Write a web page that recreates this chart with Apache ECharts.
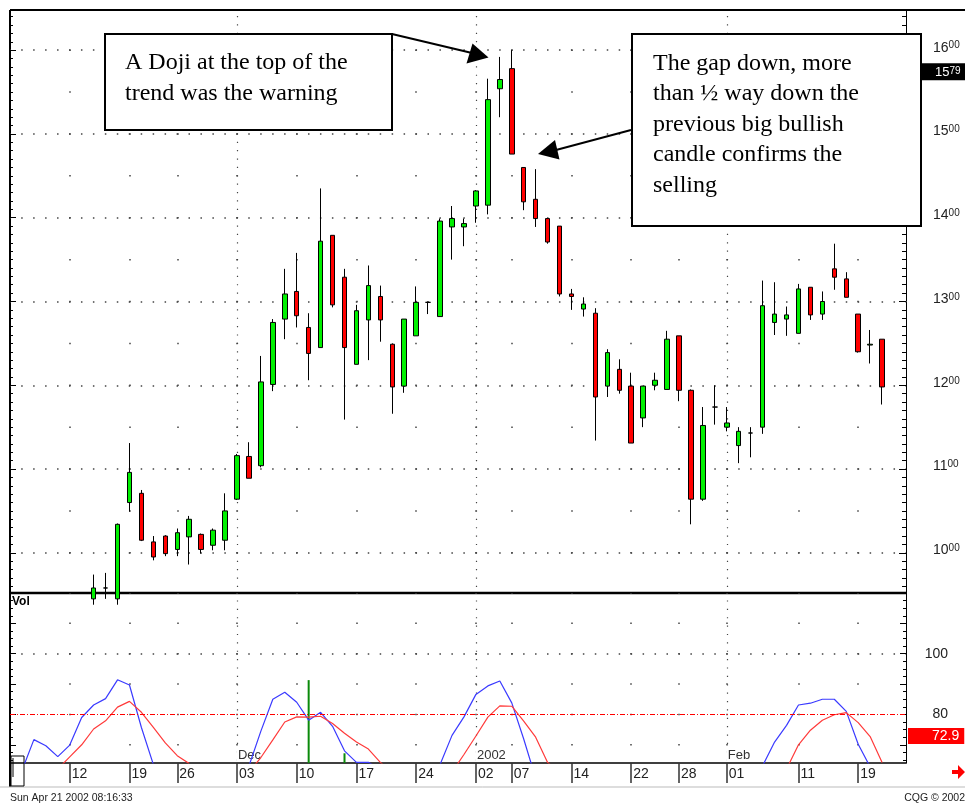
<!DOCTYPE html>
<html>
<head>
<meta charset="utf-8">
<title>Doji at the top</title>
<script src="https://cdn.jsdelivr.net/npm/echarts@6/dist/echarts.min.js"></script>
<style>
html, body { margin: 0; padding: 0; background: #fff; }
#chart { width: 965px; height: 804px; }
</style>
</head>
<body>
<div id="chart"></div>
<script>
var dates = [
    '2001-11-05', '2001-11-06', '2001-11-07', '2001-11-08', '2001-11-09',
    '2001-11-12', '2001-11-13', '2001-11-14', '2001-11-15', '2001-11-16',
    '2001-11-19', '2001-11-20', '2001-11-21', '2001-11-23',
    '2001-11-26', '2001-11-27', '2001-11-28', '2001-11-29', '2001-11-30',
    '2001-12-03', '2001-12-04', '2001-12-05', '2001-12-06', '2001-12-07',
    '2001-12-10', '2001-12-11', '2001-12-12', '2001-12-13', '2001-12-14',
    '2001-12-17', '2001-12-18', '2001-12-19', '2001-12-20', '2001-12-21',
    '2001-12-24', '2001-12-26', '2001-12-27', '2001-12-28', '2001-12-31',
    '2002-01-02', '2002-01-03', '2002-01-04',
    '2002-01-07', '2002-01-08', '2002-01-09', '2002-01-10', '2002-01-11',
    '2002-01-14', '2002-01-15', '2002-01-16', '2002-01-17', '2002-01-18',
    '2002-01-22', '2002-01-23', '2002-01-24', '2002-01-25',
    '2002-01-28', '2002-01-29', '2002-01-30', '2002-01-31', '2002-02-01',
    '2002-02-04', '2002-02-05', '2002-02-06', '2002-02-07', '2002-02-08',
    '2002-02-11', '2002-02-12', '2002-02-13', '2002-02-14', '2002-02-15',
    '2002-02-19', '2002-02-20', '2002-02-21', '2002-02-22', '2002-02-25'
];

var opens = [
    null, null, null, null, null, null, null, 945, 958, 945,
    1060, 1071, 1013, 1020, 1004, 1019, 1022, 1009, 1015, 1064,
    1115, 1104, 1201, 1279, 1312, 1269, 1245, 1379, 1329, 1225,
    1278, 1306, 1249, 1199, 1259, 1299, 1282, 1389, 1389, 1414,
    1415, 1554, 1578, 1460, 1422, 1399, 1390, 1309, 1291, 1286,
    1199, 1219, 1199, 1161, 1200, 1195, 1259, 1194, 1064, 1174,
    1150, 1128, 1143, 1150, 1275, 1279, 1262, 1317, 1285, 1339,
    1327, 1285, 1248, 1255, null, null
];
var closes = [
    null, null, null, null, null, null, null, 958, 958, 1034,
    1096, 1015, 995, 999, 1024, 1040, 1004, 1027, 1050, 1116,
    1089, 1204, 1275, 1309, 1283, 1238, 1372, 1296, 1245, 1289,
    1319, 1278, 1198, 1279, 1299, 1299, 1396, 1399, 1393, 1432,
    1541, 1565, 1476, 1419, 1399, 1371, 1309, 1306, 1297, 1186,
    1239, 1194, 1131, 1199, 1206, 1255, 1194, 1064, 1152, 1174,
    1155, 1145, 1143, 1295, 1285, 1284, 1315, 1284, 1300, 1329,
    1305, 1240, 1249, 1198, null, null
];
var lows = [
    null, null, null, null, null, null, null, 938, 945, 938,
    1049, 1014, 991, 996, 996, 986, 999, 1003, 1003, 1063,
    1089, 1102, 1193, 1255, 1269, 1206, 1245, 1293, 1159, 1225,
    1230, 1252, 1166, 1191, 1259, 1285, 1282, 1350, 1366, 1394,
    1404, 1520, 1476, 1409, 1389, 1369, 1306, 1290, 1282, 1134,
    1186, 1190, 1131, 1150, 1194, 1195, 1181, 1034, 1062, 1153,
    1145, 1107, 1114, 1142, 1260, 1259, 1262, 1278, 1278, 1314,
    1305, 1239, 1226, 1177, null, null
];
var highs = [
    null, null, null, null, null, null, null, 974, 976, 1035,
    1131, 1075, 1020, 1021, 1029, 1044, 1023, 1029, 1071, 1118,
    1132, 1235, 1279, 1339, 1358, 1286, 1435, 1379, 1339, 1296,
    1343, 1319, 1250, 1279, 1318, 1300, 1399, 1414, 1399, 1433,
    1566, 1592, 1600, 1460, 1458, 1399, 1390, 1315, 1305, 1292,
    1243, 1231, 1215, 1199, 1215, 1265, 1259, 1195, 1174, 1200,
    1174, 1150, 1150, 1325, 1323, 1294, 1321, 1317, 1312, 1369,
    1335, 1285, 1266, 1255, null, null
];

// stochastic %K (blue) and %D (red); only the parts above 64 show
var stochK = [
    null, 61.5, 71.7, 69.7, 66.1, 69.9, 79, 83.1, 85.2, 91.4,
    89.7, 75.7, 63.5, null, null, null, null, null, null, null,
    63, 74.5, 85, 87.3, 84, 78.1, 80.7, 76.1, 68, 64.2,
    64.2, 62, null, null, null, null, 63.5, 73.1, 79.2, 86.6,
    89.4, 91, 83.8, 71.9, 59, null, null, null, null, null,
    null, null, null, null, null, null, null, null, null, null,
    null, null, null, 63.1, 70.9, 76.4, 83.1, 83.7, 85, 85,
    81, 70.2, 62.7, null, null, null
];
var stochD = [
    null, null, null, null, 62, 66, 70, 75.2, 77.9, 82.4,
    84.3, 80.7, 75.7, 70.6, 66.4, 63.8, null, null, null, null,
    61, 65.8, 71.6, 77.5, 79.2, 79.1, 79.4, 77, 73.8, 70.9,
    68.6, 64.2, 61, null, null, null, null, 61, 66.8, 72.9,
    79.1, 82.8, 82.7, 77.8, 72.5, 64.2, 61, null, null, null,
    null, null, null, null, null, null, null, null, null, null,
    null, null, null, null, null, 62, 70, 74.8, 78.1, 79.9,
    80.6, 77.3, 72.7, 64.2, null, null
];
var vol = [];
dates.forEach(function () { vol.push(null); });
vol[25] = 91.3;
vol[28] = 67.2;

var tickDates = [
    '2001-11-12', '2001-11-19', '2001-11-26', '2001-12-03', '2001-12-10',
    '2001-12-17', '2001-12-24', '2002-01-02', '2002-01-07', '2002-01-14',
    '2002-01-22', '2002-01-28', '2002-02-01', '2002-02-11', '2002-02-19'
];
var monthDates = ['2001-12-03', '2002-01-02', '2002-02-01'];
var monthNames = ['Dec', '2002', 'Feb'];
var priceTicks = [1000, 1100, 1200, 1300, 1400, 1500, 1600];
var stochTicks = [70, 80, 90, 100, 110];
var stochLabels = [80, 100];
var lastPrice = 1579;
var lastStoch = 72.9;
var overbought = 80;

var priceMin = 952, priceMax = 1648;
var stochMin = 64, stochMax = 120;

function steps(a, b, s) {
    var out = [];
    for (var v = a; v <= b + 1e-9; v += s) out.push(Math.round(v * 100) / 100);
    return out;
}

var candles = [];
dates.forEach(function (d, i) {
    if (opens[i] != null) candles.push([i, opens[i], closes[i], lows[i], highs[i]]);
});

var SANS = '"Liberation Sans", Arial, sans-serif';
var SERIF = '"Liberation Serif", "Times New Roman", serif';
var DOT = '#444';
var HIDDEN = 'rgba(0,0,0,0)';

function isTick(i, v) { return tickDates.indexOf(v) >= 0; }
function isMonth(i, v) { return monthDates.indexOf(v) >= 0; }

function catAxis(grid, extra) {
    var a = {
        type: 'category', gridIndex: grid, position: 'bottom', data: dates, boundaryGap: false,
        axisLine: {show: false}, axisTick: {show: false}, axisLabel: {show: false},
        splitLine: {show: false}
    };
    for (var k in extra) a[k] = extra[k];
    return a;
}

function valAxis(grid, pos, min, max, extra) {
    var a = {
        type: 'value', gridIndex: grid, position: pos, min: min, max: max,
        axisLine: {show: false}, axisTick: {show: false}, axisLabel: {show: false},
        splitLine: {show: false}
    };
    for (var k in extra) a[k] = extra[k];
    return a;
}

function ticks(values, len) {
    return {show: true, inside: true, length: len, customValues: values,
            lineStyle: {color: '#000', width: 1}};
}

function priceLabel(v) {
    var s = String(v);
    return '{a|' + s.slice(0, 2) + '}{b|' + s.slice(2) + '}';
}

var chart = echarts.init(document.getElementById('chart'));

chart.setOption({
    animation: false,
    backgroundColor: '#fff',
    grid: [
        {left: 10, top: 10, width: 896, height: 583},
        {left: 10, top: 593, width: 896, height: 170}
    ],
    xAxis: [
        catAxis(0, {splitLine: {show: true, interval: isTick,
            lineStyle: {color: DOT, width: 1.5, type: [1.5, 40.38], dashOffset: 2.4}}}),
        catAxis(0, {splitLine: {show: true, interval: isMonth,
            lineStyle: {color: DOT, width: 1.2, type: [1.2, 7.18], dashOffset: 2.4}}}),
        catAxis(1, {
            axisLine: {show: true, onZero: false, lineStyle: {color: '#000', width: 1.5}},
            axisTick: {show: true, interval: isTick, length: 20, lineStyle: {color: '#333', width: 1.5}},
            axisLabel: {show: true, interval: isTick, align: 'left', margin: 4, padding: [0, 0, 0, 2],
                color: '#222', fontSize: 14, fontFamily: SANS,
                formatter: function (v) { return v.slice(8); }},
            splitLine: {show: true, interval: isTick,
                lineStyle: {color: DOT, width: 1.5, type: [1.5, 28.86], dashOffset: 0.75}}
        }),
        catAxis(1, {
            axisLabel: {show: true, inside: true, interval: isMonth, align: 'left', verticalAlign: 'bottom',
                margin: 1, padding: [0, 1, 0, 1], backgroundColor: '#fff',
                color: '#333', fontSize: 13, fontFamily: SANS,
                formatter: function (v) { return monthNames[monthDates.indexOf(v)]; }},
            splitLine: {show: true, interval: isMonth,
                lineStyle: {color: DOT, width: 1.2, type: [1.2, 7.18], dashOffset: 1}}
        })
    ],
    yAxis: [
        valAxis(0, 'right', priceMin, priceMax, {
            axisLine: {show: true, lineStyle: {color: '#000', width: 1}},
            axisTick: ticks(priceTicks, 7),
            axisLabel: {show: true, customValues: priceTicks, margin: 27, padding: [0, 0, 5, 0],
                formatter: priceLabel,
                rich: {
                    a: {fontSize: 14, lineHeight: 14, color: '#222', fontFamily: SANS},
                    b: {fontSize: 10, lineHeight: 10, verticalAlign: 'top', color: '#222', fontFamily: SANS}
                }},
            splitLine: {show: true, lineStyle: {color: DOT, width: 1.5, type: [1.5, 10.45], dashOffset: 0.75}}
        }),
        valAxis(0, 'right', priceMin, priceMax, {axisTick: ticks(steps(960, 1640, 10), 4)}),
        valAxis(0, 'left', priceMin, priceMax, {axisTick: ticks(steps(960, 1640, 10), 3)}),
        valAxis(0, 'left', priceMin, priceMax, {axisTick: ticks(priceTicks, 6)}),
        valAxis(1, 'right', stochMin, stochMax, {
            axisLine: {show: true, lineStyle: {color: '#000', width: 1}},
            axisTick: ticks(stochTicks, 6),
            axisLabel: {show: true, customValues: stochLabels, align: 'right', margin: 42,
                padding: [0, 0, 3, 0], color: '#222', fontSize: 14, fontFamily: SANS}
        }),
        valAxis(1, 'right', stochMin, stochMax, {axisTick: ticks(steps(65, 117.5, 2.5), 3)}),
        valAxis(1, 'left', stochMin, stochMax, {axisTick: ticks(steps(65, 117.5, 2.5), 3)}),
        valAxis(1, 'left', stochMin, stochMax, {axisTick: ticks(stochTicks, 6)}),
        valAxis(1, 'right', stochMin, stochMax, {
            axisTick: {show: false, customValues: [100]},
            splitLine: {show: true, lineStyle: {color: DOT, width: 1.5, type: [1.5, 10.45], dashOffset: 0.75}}
        })
    ],
    series: [
        {
            type: 'candlestick',
            xAxisIndex: 0, yAxisIndex: 0,
            data: candles,
            encode: {x: 0, y: [1, 2, 3, 4]},
            barWidth: 5,
            clip: true,
            itemStyle: {color: '#00f000', color0: '#ff0000', borderColor: '#000', borderColor0: '#000', borderWidth: 1},
            markLine: {
                silent: true, symbol: 'none',
                lineStyle: {color: HIDDEN, width: 1, type: 'solid'},
                label: {show: true, position: 'end', distance: 2,
                    formatter: function (p) { return priceLabel(p.value); },
                    backgroundColor: '#000', padding: [3, 8, 1, 27], offset: [0, 4],
                    rich: {
                        a: {fontSize: 13, lineHeight: 13, color: '#fff', fontFamily: SANS},
                        b: {fontSize: 10, lineHeight: 10, verticalAlign: 'top', color: '#fff', fontFamily: SANS}
                    }},
                data: [{yAxis: lastPrice}]
            }
        },
        {
            name: 'Vol', type: 'bar',
            xAxisIndex: 2, yAxisIndex: 4,
            data: vol, barWidth: 2,
            itemStyle: {color: '#0a8a0a'}
        },
        {
            name: '%K', type: 'line',
            xAxisIndex: 2, yAxisIndex: 4,
            data: stochK, symbol: 'none', clip: true,
            lineStyle: {color: '#3a3aff', width: 1.2},
            markLine: {
                silent: true, symbol: 'none',
                lineStyle: {color: HIDDEN, width: 1, type: 'solid'},
                label: {show: true, position: 'end', distance: 2,
                    formatter: function (p) { return String(p.value); },
                    backgroundColor: '#ff0000', color: '#fff', fontSize: 14, fontFamily: SANS,
                    padding: [1, 5, 1, 24]},
                data: [{yAxis: lastStoch}]
            }
        },
        {
            name: '%D', type: 'line',
            xAxisIndex: 2, yAxisIndex: 4,
            data: stochD, symbol: 'none', clip: true,
            lineStyle: {color: '#ff3a3a', width: 1.2},
            markLine: {
                silent: true, symbol: 'none',
                lineStyle: {color: '#ff0000', width: 1, type: [5, 2, 1, 2]},
                label: {show: false},
                data: [{yAxis: overbought}]
            }
        }
    ],
    graphic: [
        {type: 'line', shape: {x1: 10, y1: 10, x2: 965, y2: 10}, style: {stroke: '#000', lineWidth: 2}},
        {type: 'line', shape: {x1: 10, y1: 10, x2: 10, y2: 787}, style: {stroke: '#000', lineWidth: 2}},
        {type: 'line', shape: {x1: 10, y1: 593, x2: 906, y2: 593}, style: {stroke: '#000', lineWidth: 2.5}},
        {type: 'line', shape: {x1: 0, y1: 787, x2: 965, y2: 787}, style: {stroke: '#bbb', lineWidth: 1}},
        {type: 'rect', shape: {x: 11, y: 756, width: 13, height: 30}, style: {fill: '#fff', stroke: '#000', lineWidth: 1}},
        {type: 'line', shape: {x1: 13, y1: 758, x2: 13, y2: 777}, style: {stroke: '#000', lineWidth: 1}},
        {type: 'polygon', shape: {points: [[952, 770], [958, 770], [958, 765], [965, 772], [958, 779], [958, 774], [952, 774]]},
            style: {fill: '#ff0000'}},
        {type: 'text', style: {text: 'Vol', x: 12, y: 596, font: 'bold 12px ' + SANS, fill: '#000'}},
        {type: 'text', style: {text: 'Sun Apr 21 2002 08:16:33', x: 10, y: 793, font: '10.5px ' + SANS, fill: '#222'}},
        {type: 'text', style: {text: 'CQG \u00a9 2002', x: 965, y: 793, align: 'right', font: '10.5px ' + SANS, fill: '#222'}},

        {type: 'rect', z: 100, shape: {x: 105, y: 34, width: 287, height: 96},
            style: {fill: '#fff', stroke: '#000', lineWidth: 2}},
        {type: 'text', z: 101, style: {text: 'A Doji at the top of the\ntrend was the warning',
            x: 125, y: 47, font: '24px ' + SERIF, lineHeight: 31, fill: '#000'}},
        {type: 'line', z: 100, shape: {x1: 392, y1: 34, x2: 472, y2: 53}, style: {stroke: '#000', lineWidth: 2}},
        {type: 'polygon', z: 100, shape: {points: [[488.5, 57.5], [466.5, 63.5], [472.5, 43.5]]}, style: {fill: '#000'}},

        {type: 'rect', z: 100, shape: {x: 632, y: 34, width: 289, height: 192},
            style: {fill: '#fff', stroke: '#000', lineWidth: 2}},
        {type: 'text', z: 101, style: {text: 'The gap down, more\nthan \u00bd way down the\nprevious big bullish\ncandle confirms the\nselling',
            x: 653, y: 48, font: '24px ' + SERIF, lineHeight: 30.5, fill: '#000'}},
        {type: 'line', z: 100, shape: {x1: 631, y1: 130, x2: 556, y2: 150}, style: {stroke: '#000', lineWidth: 2}},
        {type: 'polygon', z: 100, shape: {points: [[538, 154], [555, 140], [559.5, 159.5]]}, style: {fill: '#000'}}
    ]
});
</script>
</body>
</html>
